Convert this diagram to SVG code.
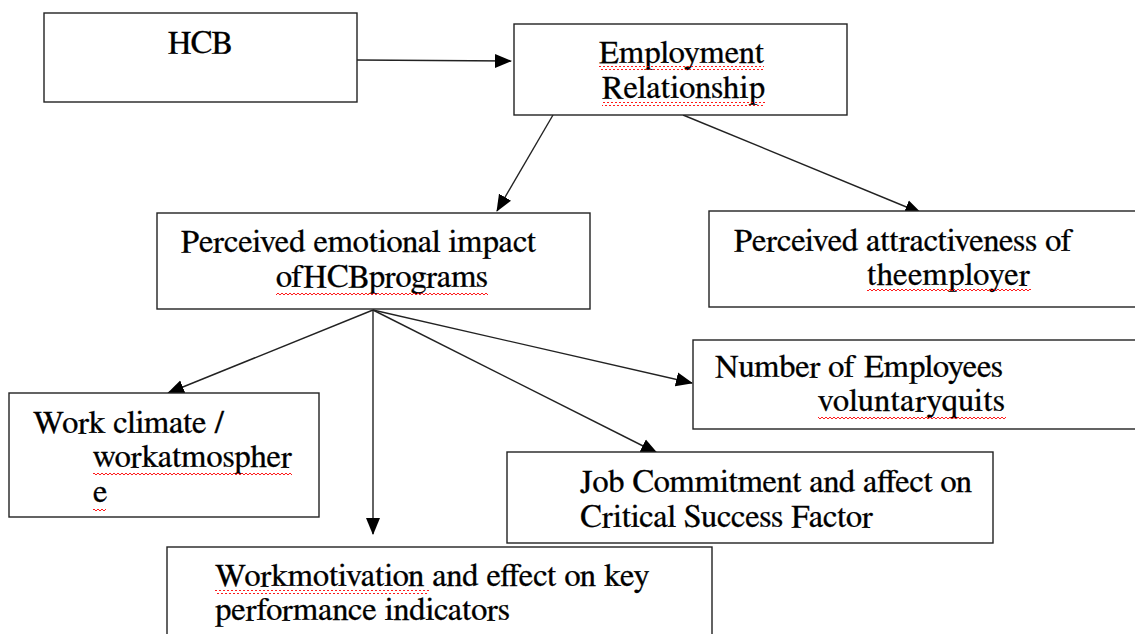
<svg xmlns="http://www.w3.org/2000/svg" width="1135" height="634" viewBox="0 0 1135 634">
<style>
.box{fill:#fff;stroke:#222;stroke-width:1.4}
.t{font-family:FreeSerif,'Noto Serif','DejaVu Serif','Liberation Serif',serif;font-size:32.5px;fill:#000;stroke:#000;stroke-width:0.3}
.con{stroke:#222;stroke-width:1.4;fill:none;marker-end:url(#ah)}
.sq{fill:url(#squig)}
</style>
<defs>
<marker id="ah" markerUnits="userSpaceOnUse" markerWidth="17" markerHeight="15" viewBox="0 0 17 15" refX="16" refY="7.5" orient="auto">
<path d="M0,0.5 L17,7.5 L0,14.5 Z" fill="#000"/>
</marker>
<pattern id="squig" patternUnits="userSpaceOnUse" width="4" height="4">
<path d="M0,3 L2,1 L4,3" stroke="#f00" stroke-width="0.9" fill="none"/>
</pattern>
</defs>
<rect width="1135" height="634" fill="#fff"/>
<g id="connectors">
<line class="con" x1="357" y1="60" x2="511" y2="61"/>
<line class="con" x1="553" y1="115" x2="497" y2="211"/>
<line class="con" x1="683" y1="115" x2="921" y2="213"/>
<line class="con" x1="373" y1="310" x2="168" y2="393"/>
<line class="con" x1="373" y1="310" x2="373" y2="534"/>
<line class="con" x1="373" y1="310" x2="657" y2="453"/>
<line class="con" x1="373" y1="310" x2="692" y2="383"/>
</g>
<g id="hcb">
<rect class="box" x="44" y="13" width="313" height="89"/>
<text class="t" x="168" y="53" textLength="64">HCB</text>
</g>
<g id="employment-relationship">
<rect class="box" x="514" y="24" width="333" height="91"/>
<text class="t" x="599" y="63" textLength="165">Employment</text>
<text class="t" x="602" y="98" textLength="163">Relationship</text>
<rect class="sq" x="599" y="66" width="165" height="4"/>
<rect class="sq" x="602" y="102" width="163" height="4"/>
</g>
<g id="perceived-emotional-impact">
<rect class="box" x="157" y="213" width="433" height="96"/>
<text class="t" x="181" y="252" textLength="355">Perceived emotional impact</text>
<text class="t" x="276" y="287" textLength="212">ofHCBprograms</text>
<rect class="sq" x="276" y="292" width="212" height="4"/>
</g>
<g id="perceived-attractiveness">
<rect class="box" x="709" y="211" width="440" height="96"/>
<text class="t" x="734" y="251" textLength="339">Perceived attractiveness of</text>
<text class="t" x="867" y="285" textLength="163">theemployer</text>
<rect class="sq" x="867" y="289" width="164" height="4"/>
</g>
<g id="number-of-employees">
<rect class="box" x="693" y="340" width="456" height="89"/>
<text class="t" x="715" y="377" textLength="288">Number of Employees</text>
<text class="t" x="818" y="411" textLength="187">voluntaryquits</text>
<rect class="sq" x="818" y="415" width="188" height="4"/>
</g>
<g id="work-climate">
<rect class="box" x="9" y="393" width="310" height="124"/>
<text class="t" x="33" y="433" textLength="191">Work climate /</text>
<text class="t" x="93" y="467" textLength="199">workatmospher</text>
<text class="t" x="93" y="502">e</text>
<rect class="sq" x="93" y="471" width="199" height="4"/>
<rect class="sq" x="93" y="507" width="13" height="4"/>
</g>
<g id="job-commitment">
<rect class="box" x="507" y="452" width="486" height="91"/>
<text class="t" x="580" y="492" textLength="392">Job Commitment and affect on</text>
<text class="t" x="580" y="527" textLength="293">Critical Success Factor</text>
</g>
<g id="work-motivation">
<rect class="box" x="167" y="547" width="545" height="100"/>
<text class="t" x="215" y="586" textLength="434">Workmotivation and effect on key</text>
<text class="t" x="215" y="620" textLength="295">performance indicators</text>
<rect class="sq" x="215" y="590" width="214" height="4"/>
</g>
</svg>
